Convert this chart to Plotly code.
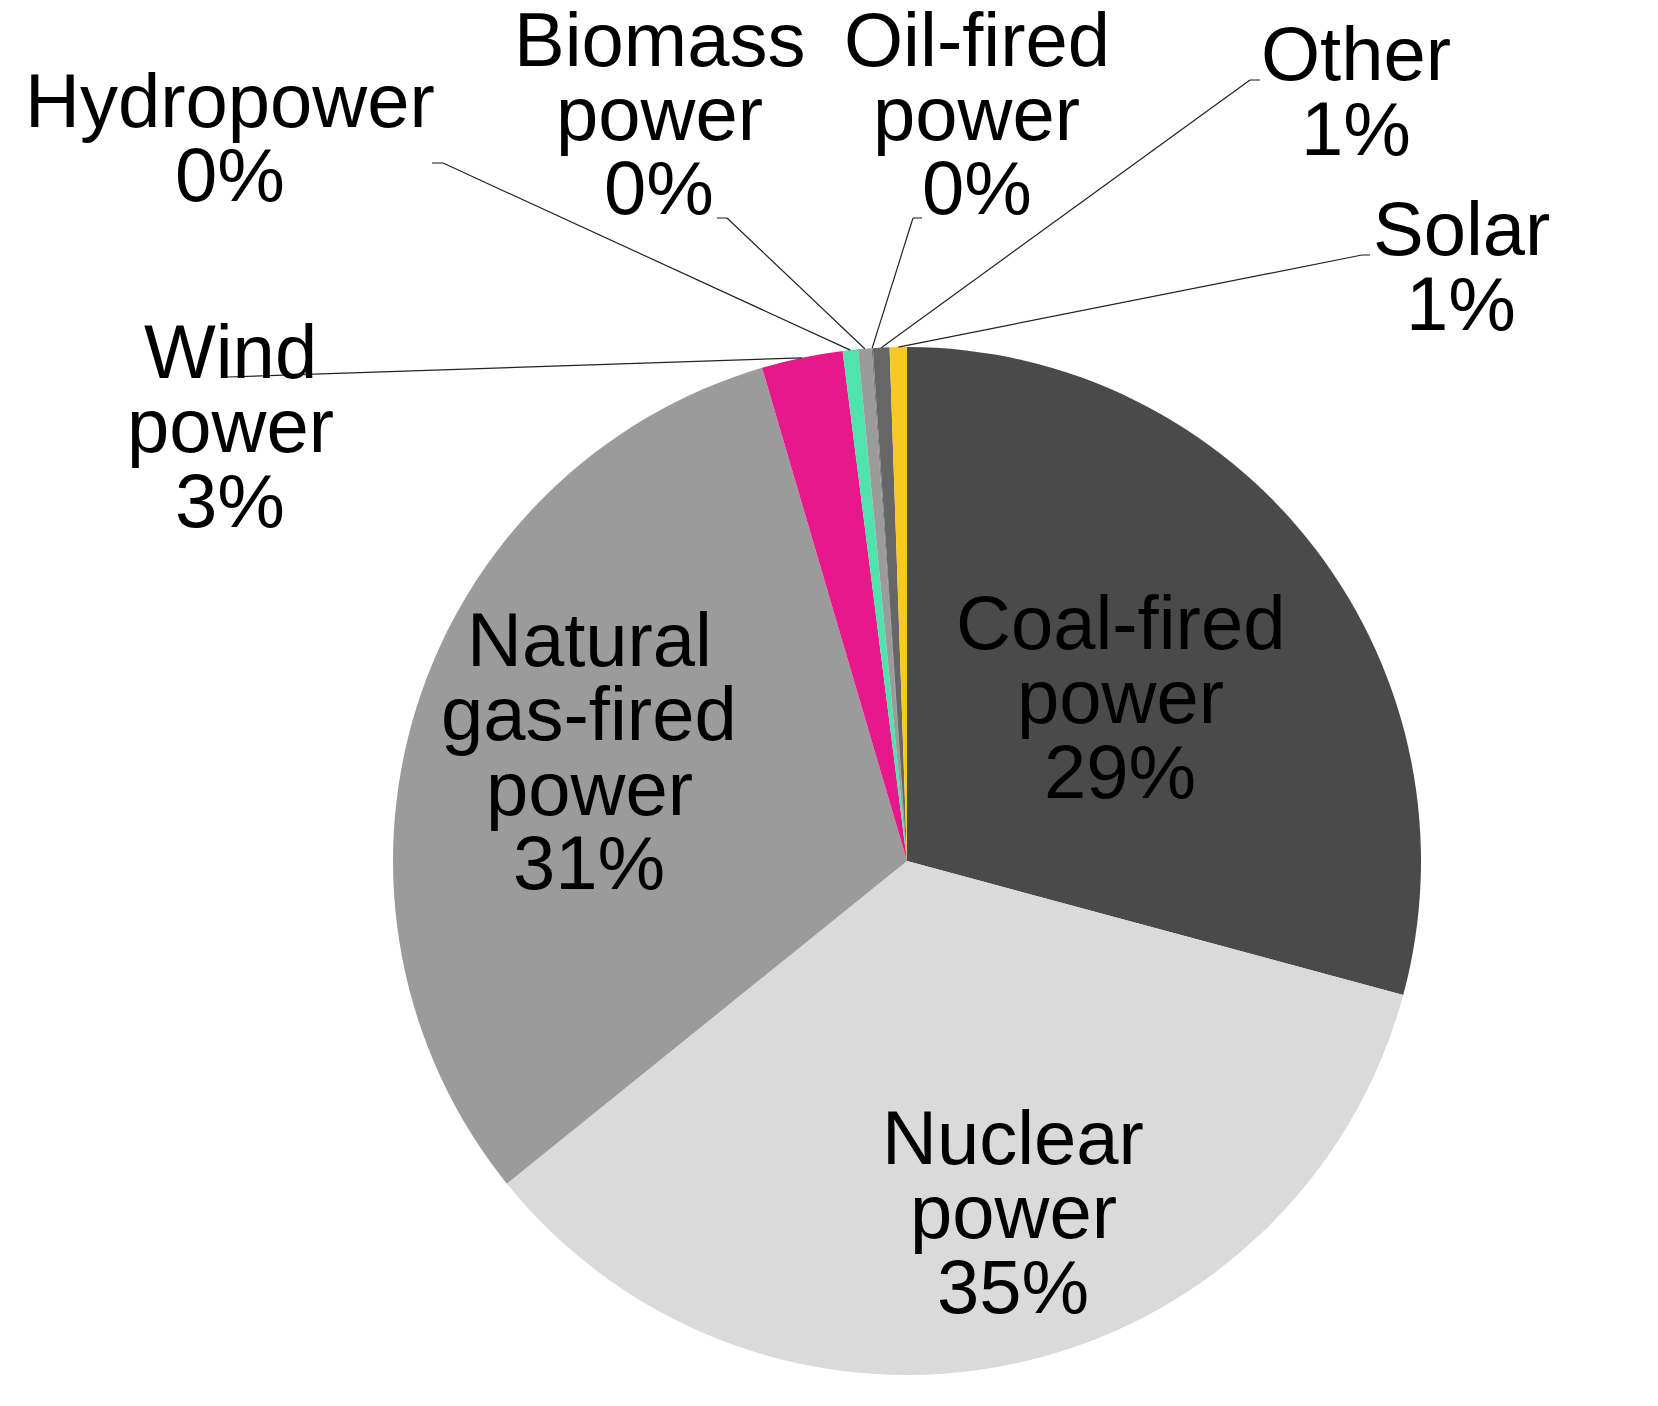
import math
import plotly.graph_objects as go

# power generation mix, share in percent
sources = [
    "Coal-fired power", "Nuclear power", "Natural gas-fired power", "Wind power",
    "Hydropower", "Biomass power", "Oil-fired power", "Other", "Solar",
]
shares = [29.2, 35.0, 31.25, 2.55, 0.48, 0.42, 0.04, 0.52, 0.54]
label_lines = [
    ["Coal-fired", "power"], ["Nuclear", "power"], ["Natural", "gas-fired", "power"],
    ["Wind", "power"], ["Hydropower"], ["Biomass", "power"], ["Oil-fired", "power"],
    ["Other"], ["Solar"],
]
colors = ["#4a4a4a", "#dadada", "#9b9b9b", "#e8178a", "#50e3ad",
          "#9b9b9b", "#7a7a7a", "#666666", "#f6c923"]

W, H = 1658, 1406
OFF = 8  # page body margin, pulled back out of every position
cx, cy, r = 907, 861, 514   # pie centre / radius in pixels
font = "Liberation Sans, Arial, Helvetica, sans-serif"
fsize = 76
line_gap = 74.5

# label block: centre x, first baseline y
label_pos = {
    "Coal-fired power": (1120, 648),
    "Nuclear power": (1013, 1163),
    "Natural gas-fired power": (589, 665),
    "Wind power": (230, 377),
    "Hydropower": (230, 126),
    "Biomass power": (659, 65),
    "Oil-fired power": (977, 65),
    "Other": (1356, 80),
    "Solar": (1461, 255),
}
# leader lines: (hook start, hook end) for the outside labels
leaders = {
    "Wind power": ((227, 377), (227, 377)),
    "Hydropower": ((432, 163), (443, 163)),
    "Biomass power": ((717, 218), (727, 218)),
    "Oil-fired power": ((922, 218), (913, 218)),
    "Other": ((1260, 80), (1250, 80)),
    "Solar": ((1370, 255), (1362, 255)),
}


def px(x):
    return (x - OFF) / W


def py(y):
    return (H - (y - OFF)) / H


fig = go.Figure(
    go.Pie(
        labels=sources,
        values=shares,
        sort=False,
        direction="clockwise",
        rotation=0,
        marker=dict(colors=colors, line=dict(width=0)),
        textinfo="none",
        hoverinfo="label+percent",
        showlegend=False,
        domain=dict(x=[px(cx - r), px(cx + r)], y=[py(cy + r), py(cy - r)]),
    )
)

total = sum(shares)
annotations = []
shapes = []
acc = 0.0
for name, val, lines in zip(sources, shares, label_lines):
    pct = val / total * 100
    mid = (acc + val / 2) / total * 2 * math.pi
    acc += val
    x0, y0 = label_pos[name]
    for i, t in enumerate(lines + [f"{round(pct)}%"]):
        annotations.append(dict(
            x=px(x0), y=py(y0 + i * line_gap - 26), xref="paper", yref="paper",
            text=t, showarrow=False, xanchor="center", yanchor="middle",
            font=dict(family=font, size=fsize, color="black"),
        ))
    if name in leaders:
        (hx0, hy0), (hx1, hy1) = leaders[name]
        ex = cx + r * math.sin(mid)
        ey = cy - r * math.cos(mid)
        if (hx0, hy0) != (hx1, hy1):
            shapes.append(dict(
                type="line", xref="paper", yref="paper",
                x0=px(hx0), y0=py(hy0), x1=px(hx1), y1=py(hy1),
                line=dict(color="#8a8a8a", width=2),
            ))
        shapes.append(dict(
            type="line", xref="paper", yref="paper",
            x0=px(hx1), y0=py(hy1), x1=px(ex), y1=py(ey),
            line=dict(color="#222222", width=1.2),
        ))

fig.update_layout(
    width=W,
    height=H,
    margin=dict(l=0, r=0, t=0, b=0),
    paper_bgcolor="white",
    plot_bgcolor="white",
    annotations=annotations,
    shapes=shapes,
)

fig.write_html("out.html")
